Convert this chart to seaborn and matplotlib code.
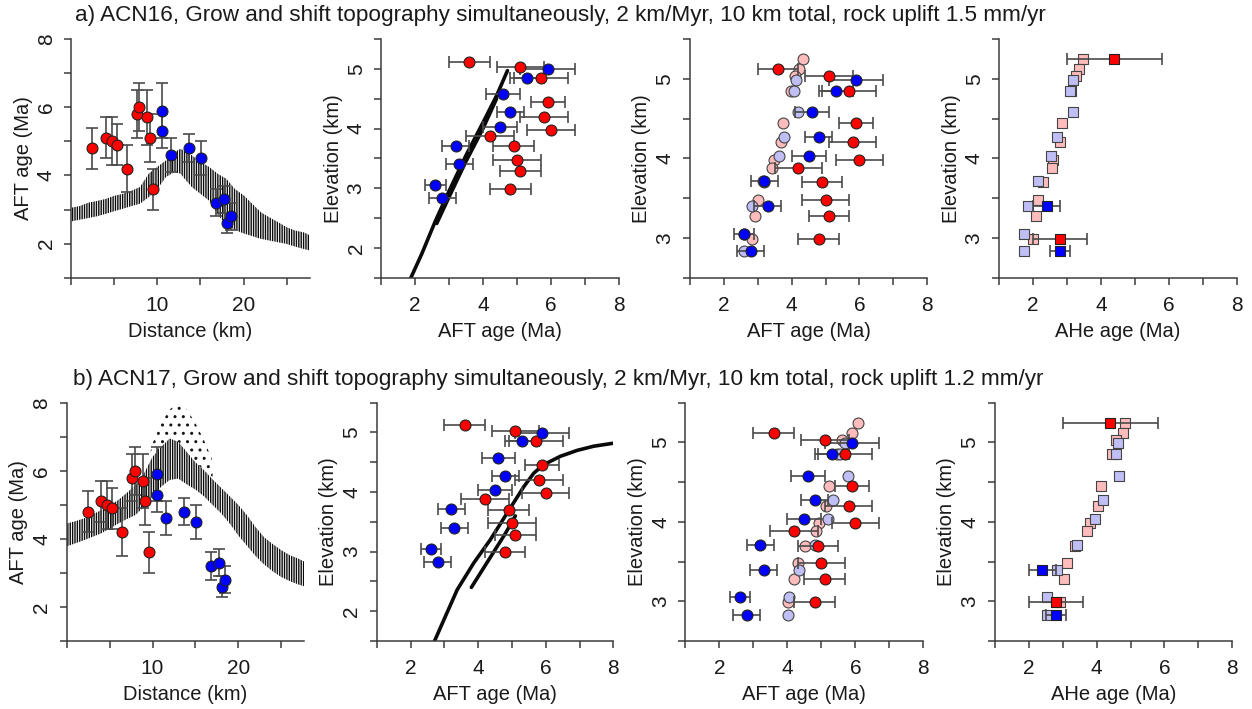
import numpy as np
import matplotlib
matplotlib.use('Agg')
import matplotlib.pyplot as plt
import seaborn as sns
from matplotlib.ticker import MultipleLocator

sns.set_style('ticks')
plt.rcParams['font.family'] = ['Liberation Sans', 'DejaVu Sans']
plt.rcParams['hatch.linewidth'] = 1.0

nan = np.nan

# ---- observed AFT ages along the profile ----
red_dist = [2.45, 4.05, 4.7, 5.3, 6.45, 7.65, 7.9, 8.85, 9.15, 9.55]
red_dist_age = [4.8, 5.1, 5.0, 4.9, 4.2, 5.8, 6.0, 5.7, 5.1, 3.6]
red_dist_err = [0.6, 0.6, 0.7, 0.6, 0.7, 0.7, 0.7, 0.8, 0.7, 0.6]
blue_dist = [10.55, 10.5, 11.6, 13.65, 15.1, 16.8, 17.7, 18.1, 18.5]
blue_dist_age = [5.9, 5.3, 4.6, 4.8, 4.5, 3.2, 3.3, 2.6, 2.8]
blue_dist_err = [0.8, 0.5, 0.5, 0.4, 0.5, 0.4, 0.4, 0.3, 0.4]

# ---- sample elevations (km) ----
red_elev = [5.25, 5.12, 5.03, 4.85, 4.45, 4.20, 3.98, 3.88, 3.70, 3.48, 3.28, 2.99]
blue_elev = [4.99, 4.85, 4.58, 4.27, 4.03, 3.71, 3.40, 3.05, 2.83]

# observed ages
red_aft = [nan, 3.6, 5.1, 5.7, 5.9, 5.8, 6.0, 4.2, 4.9, 5.0, 5.1, 4.8]
red_aft_err = [nan, 0.6, 0.7, 0.8, 0.5, 0.7, 0.7, 0.7, 0.6, 0.7, 0.6, 0.6]
blue_aft = [5.9, 5.3, 4.6, 4.8, 4.5, 3.2, 3.3, 2.6, 2.8]
blue_aft_err = [0.8, 0.5, 0.5, 0.4, 0.5, 0.4, 0.4, 0.3, 0.4]
red_ahe = [4.4, nan, nan, nan, nan, nan, nan, nan, nan, nan, nan, 2.8]
red_ahe_err = [1.4, nan, nan, nan, nan, nan, nan, nan, nan, nan, nan, 0.8]
blue_ahe = [nan, nan, nan, nan, nan, nan, 2.4, nan, 2.8]
blue_ahe_err = [nan, nan, nan, nan, nan, nan, 0.4, nan, 0.3]

# ---- model ACN16 ----
a_band_d = [0, 1, 2, 3, 4, 5, 6, 7, 8, 9, 10, 11, 12, 12.7, 13, 14, 15, 16, 17, 18,
            19, 20, 21, 22, 23, 24, 25, 26, 27, 27.7]
a_band_lo = [2.65, 2.7, 2.75, 2.8, 2.87, 2.95, 3.02, 3.1, 3.17, 3.36, 3.6, 3.95, 4.1, 4.05,
             3.95, 3.66, 3.46, 3.26, 2.85, 2.55, 2.4, 2.3, 2.22, 2.14, 2.09, 2.04, 1.99,
             1.91, 1.84, 1.8]
a_band_hi = [3.05, 3.1, 3.2, 3.25, 3.31, 3.4, 3.46, 3.55, 3.66, 4.05, 4.25, 4.44, 4.69, 4.78,
             4.74, 4.59, 4.4, 4.25, 4.05, 3.9, 3.6, 3.42, 3.17, 2.92, 2.77, 2.63, 2.48,
             2.38, 2.33, 2.24]
a_line1_age = [1.88, 2.2, 2.6, 3.0, 3.5, 4.0, 4.4, 4.72]
a_line1_elev = [1.5, 1.9, 2.45, 2.95, 3.55, 4.1, 4.55, 4.97]
a_line2_age = [2.64, 3.0, 3.5, 4.0, 4.4]
a_line2_elev = [2.41, 2.85, 3.45, 4.0, 4.5]
a_aft_red = [4.35, 4.23, 4.11, 3.98, 3.74, 3.69, 3.49, 3.41, 3.20, 3.02, 2.93, 2.84]
a_aft_blue = [4.13, 4.06, 4.18, 3.79, 3.62, 3.15, 2.84, 2.61, 2.61]
a_ahe_red = [3.46, 3.35, 3.26, 3.12, 2.86, 2.80, 2.60, 2.55, 2.30, 2.16, 2.08, 1.99]
a_ahe_blue = [3.17, 3.10, 3.19, 2.70, 2.52, 2.16, 1.86, 1.74, 1.74]

# ---- model ACN17 ----
b_band_d = [0, 1, 2, 3, 4, 5, 6, 7, 8, 9, 10, 11, 12, 13, 14, 15, 16, 17, 18,
            19, 20, 21, 22, 23, 24, 25, 26, 27, 27.8]
b_band_lo = [3.78, 3.87, 3.96, 4.06, 4.16, 4.3, 4.45, 4.58, 4.7, 4.94, 5.24, 5.53, 5.73, 5.77,
             5.6, 5.45, 5.25, 5.0, 4.75, 4.45, 4.1, 3.8, 3.5, 3.25, 3.05, 2.88, 2.76, 2.66, 2.6]
b_band_hi = [4.45, 4.52, 4.6, 4.72, 4.84, 4.98, 5.14, 5.35, 5.58, 5.92, 6.41, 6.7, 6.95, 6.85,
             6.55, 6.25, 6.02, 5.75, 5.5, 5.25, 5.0, 4.7, 4.35, 4.05, 3.85, 3.67, 3.52, 3.42, 3.32]
b_fringe_d = [9.5, 10, 11, 12, 13, 14, 15, 16, 17]
b_fringe_lo = [6.1, 6.41, 6.7, 6.95, 6.85, 6.55, 6.25, 6.02, 5.75]
b_fringe_hi = [6.3, 6.8, 7.4, 7.8, 8.0, 7.8, 7.4, 6.9, 6.3]
b_line1_age = [2.71, 2.99, 3.38, 3.87, 4.36, 4.86, 5.35, 5.65, 5.94, 6.43, 6.93, 7.42, 8.0]
b_line1_elev = [1.5, 1.86, 2.36, 2.81, 3.2, 3.65, 4.09, 4.32, 4.46, 4.6, 4.7, 4.77, 4.82]
b_line2_age = [3.8, 4.3, 4.8, 5.1]
b_line2_elev = [2.4, 2.85, 3.3, 3.6]
b_aft_red = [6.08, 5.91, 5.60, 5.45, 5.22, 5.14, 4.94, 4.83, 4.53, 4.32, 4.20, 4.03]
b_aft_blue = [5.70, 5.55, 5.79, 5.35, 5.20, 4.80, 4.34, 4.06, 4.01]
b_ahe_red = [4.85, 4.77, 4.57, 4.45, 4.13, 4.05, 3.81, 3.71, 3.37, 3.13, 3.03, 2.92]
b_ahe_blue = [4.62, 4.56, 4.67, 4.19, 3.94, 3.41, 2.84, 2.55, 2.53]

titles = ['a) ACN16, Grow and shift topography simultaneously, 2 km/Myr, 10 km total, rock uplift 1.5 mm/yr',
          'b) ACN17, Grow and shift topography simultaneously, 2 km/Myr, 10 km total, rock uplift 1.2 mm/yr']

RED, BLUE = '#ff0000', '#0000ff'
PINK, LBLUE = '#ffbcbc', '#bfbff5'
AX = '#3c3c3c'
ERR = '#4a4a4a'
TXT = '#1a1a1a'

fig = plt.figure(figsize=(12.52, 7.09), dpi=100)

rows = [
    dict(bottom=0.6083, height=0.3367,
         lefts=[0.0567, 0.3043, 0.5509, 0.7979], widths=[0.1909, 0.1901, 0.1898, 0.1899]),
    dict(bottom=0.0959, height=0.3361,
         lefts=[0.0533, 0.3009, 0.5474, 0.7945], widths=[0.1898, 0.1890, 0.1901, 0.1898]),
]


def style(ax, xlabel, ylabel):
    sns.despine(ax=ax)
    for s in ['left', 'bottom']:
        ax.spines[s].set_color(AX)
        ax.spines[s].set_linewidth(1.1)
    ax.tick_params(which='major', length=5, width=1.1, color=AX, labelsize=15,
                   labelcolor=TXT)
    ax.tick_params(which='minor', length=5, width=1.1, color=AX)
    ax.tick_params(axis='x', which='major', pad=8)
    ax.tick_params(axis='y', which='major', pad=6)
    for t in ax.get_yticklabels():
        t.set_rotation(90)
        t.set_va('center')
    ax.set_xlabel(xlabel, fontsize=14.5, color=TXT, labelpad=5)
    ax.set_ylabel(ylabel, fontsize=14.5, color=TXT, labelpad=3)


def obs(ax, x, y, xerr=None, yerr=None, marker='o', size=62):
    for k, c in enumerate([RED, BLUE]):
        xe = None if xerr is None else xerr[k]
        ye = None if yerr is None else yerr[k]
        ax.errorbar(x[k], y[k], xerr=xe, yerr=ye, fmt='none', ecolor=ERR, elinewidth=1.2,
                    capsize=4, capthick=1.2, zorder=3)
        sns.scatterplot(x=x[k], y=y[k], ax=ax, color=c, marker=marker, s=size,
                        edgecolor='#222222', linewidth=0.8, zorder=4, legend=False)


def model_pts(ax, x, y, marker='o', size=62):
    for k, c in enumerate([PINK, LBLUE]):
        sns.scatterplot(x=x[k], y=y[k], ax=ax, color=c, marker=marker, s=size,
                        edgecolor='#444444', linewidth=0.8, zorder=2, legend=False)


models = [
    dict(band=(a_band_d, a_band_lo, a_band_hi), fringe=None,
         lines=[(a_line1_age, a_line1_elev), (a_line2_age, a_line2_elev)],
         aft=(a_aft_red, a_aft_blue), ahe=(a_ahe_red, a_ahe_blue)),
    dict(band=(b_band_d, b_band_lo, b_band_hi), fringe=(b_fringe_d, b_fringe_lo, b_fringe_hi),
         lines=[(b_line1_age, b_line1_elev), (b_line2_age, b_line2_elev)],
         aft=(b_aft_red, b_aft_blue), ahe=(b_ahe_red, b_ahe_blue)),
]

for r, (row, m) in enumerate(zip(rows, models)):
    axs = [fig.add_axes([row['lefts'][i], row['bottom'], row['widths'][i], row['height']])
           for i in range(4)]

    # distance vs AFT age, model cloud drawn as hatched band
    ax = axs[0]
    d, lo, hi = m['band']
    ax.fill_between(d, lo, hi, facecolor='none', edgecolor='#0a0a0a', hatch='|||||||',
                    linewidth=0, zorder=1)
    if m['fringe'] is not None:
        fd, flo, fhi = m['fringe']
        ax.fill_between(fd, flo, fhi, facecolor='none', edgecolor='#151515', hatch='..',
                        linewidth=0, zorder=1)
    obs(ax, (red_dist, blue_dist), (red_dist_age, blue_dist_age),
        yerr=(red_dist_err, blue_dist_err))
    ax.set_xlim(0, 27.7)
    ax.set_ylim(1, 8)
    ax.set_xticks([10, 20])
    ax.xaxis.set_minor_locator(MultipleLocator(5))
    ax.set_yticks([2, 4, 6, 8])
    ax.yaxis.set_minor_locator(MultipleLocator(1))
    style(ax, 'Distance (km)', 'AFT age (Ma)')

    # AFT age vs elevation with model curves
    ax = axs[1]
    for la, le in m['lines']:
        sns.lineplot(x=la, y=le, ax=ax, sort=False, estimator=None, color='#0a0a0a',
                     linewidth=2.6, zorder=1)
    obs(ax, (red_aft, blue_aft), (red_elev, blue_elev), xerr=(red_aft_err, blue_aft_err))
    ax.set_ylim(1.5, 5.5)
    ax.set_yticks([2, 3, 4, 5])
    ax.yaxis.set_minor_locator(MultipleLocator(0.5))

    # AFT age vs elevation with model points
    ax = axs[2]
    model_pts(ax, m['aft'], (red_elev, blue_elev))
    obs(ax, (red_aft, blue_aft), (red_elev, blue_elev), xerr=(red_aft_err, blue_aft_err))

    # AHe age vs elevation
    ax = axs[3]
    model_pts(ax, m['ahe'], (red_elev, blue_elev), marker='s', size=52)
    obs(ax, (red_ahe, blue_ahe), (red_elev, blue_elev), xerr=(red_ahe_err, blue_ahe_err),
        marker='s', size=52)

    for i, ax in enumerate(axs[1:], start=1):
        ax.set_xlim(1, 8)
        ax.set_xticks([2, 4, 6, 8])
        ax.xaxis.set_minor_locator(MultipleLocator(1))
        if i > 1:
            ax.set_ylim(2.5, 5.5)
            ax.set_yticks([3, 4, 5])
            ax.yaxis.set_minor_locator(MultipleLocator(0.5))
        style(ax, 'AHe age (Ma)' if i == 3 else 'AFT age (Ma)', 'Elevation (km)')

    fig.text(0.0599 if r == 0 else 0.0583, 0.9788 if r == 0 else 0.4654, titles[r],
             fontsize=16.2, color=TXT, va='center', ha='left')

fig.savefig('out.png', dpi=100)
